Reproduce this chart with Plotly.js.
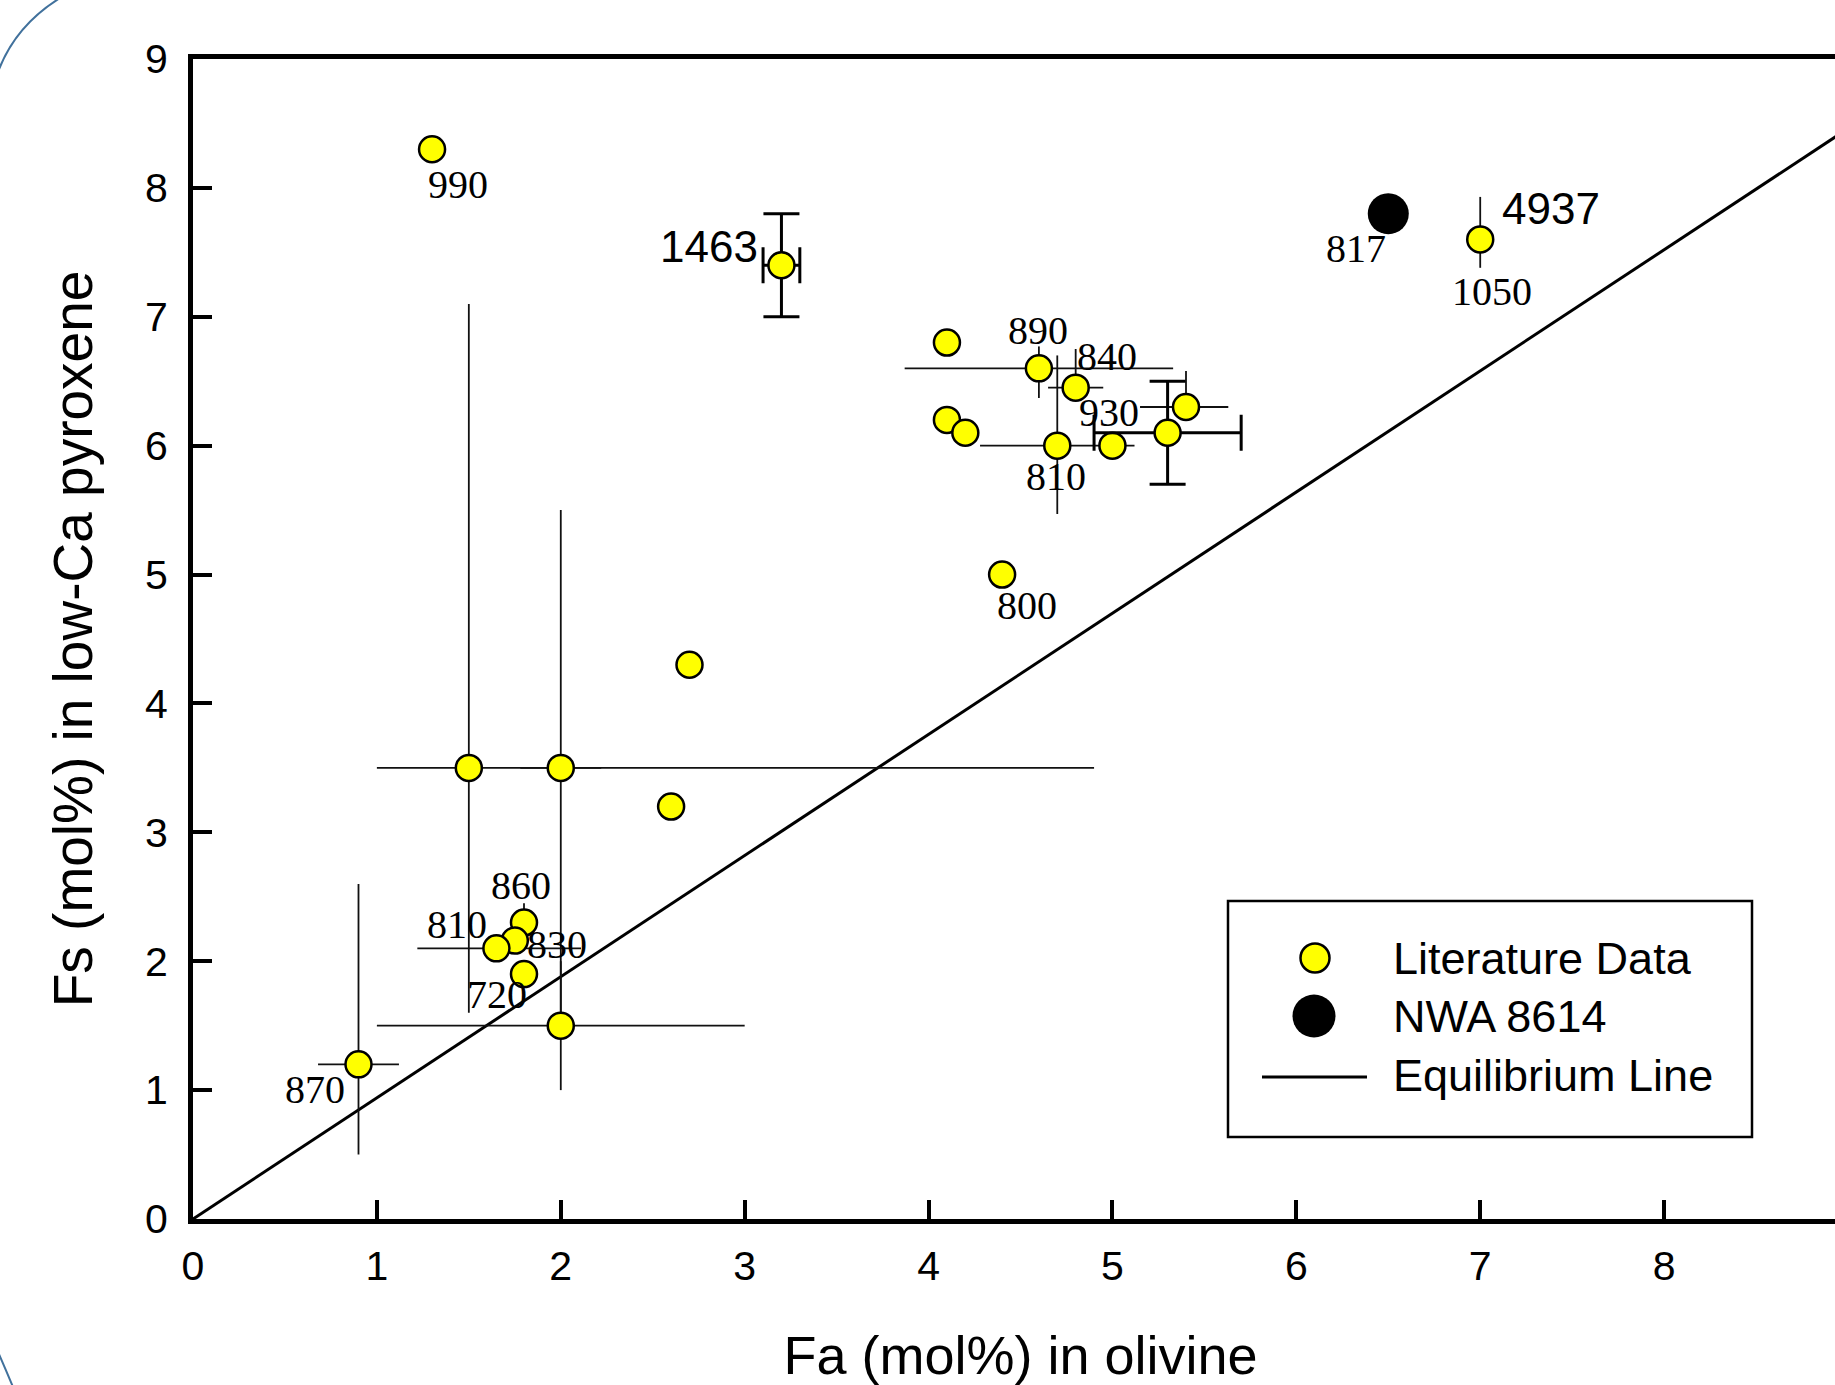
<!DOCTYPE html>
<html><head><meta charset="utf-8">
<script src="https://cdn.plot.ly/plotly-3.0.1.min.js"></script>
<style>html,body{margin:0;padding:0;overflow:hidden;background:#fff}#chart{width:1870px;height:1385px}</style>
</head><body><div id="chart"></div>
<script>
// ---------- DATA ----------
// Literature data (thin error bars)
const litFa = [1.3, 7.0, 4.1, 4.6, 4.8, 4.1, 4.2, 4.7, 5.0, 5.4, 4.4, 2.7, 2.6, 1.5, 2.0, 1.8, 1.75, 1.65, 1.8, 2.0, 0.9];
const litFs = [8.3, 7.6, 6.8, 6.6, 6.45, 6.2, 6.1, 6.0, 6.0, 6.3, 5.0, 4.3, 3.2, 3.5, 3.5, 2.3, 2.16, 2.1, 1.9, 1.5, 1.2];
const litFaErrPlus  = [0, 0, 0, 0.73, 0.15, 0, 0, 0.42, 0, 0.23, 0, 0, 0, 3.4, 0.22, 0, 0, 0.46, 0, 1.0, 0.22];
const litFaErrMinus = [0, 0, 0, 0.73, 0.15, 0, 0, 0.42, 0, 0.25, 0, 0, 0, 0.5, 0.22, 0, 0, 0.43, 0, 1.0, 0.22];
const litFsErrPlus  = [0, 0.33, 0, 0.17, 0.3, 0, 0, 0.7, 0, 0.28, 0, 0, 0, 3.6, 2.0, 0.15, 0, 0, 0, 0.5, 1.4];
const litFsErrMinus = [0, 0.22, 0, 0.23, 0, 0, 0, 0.53, 0, 0.1, 0, 0, 0, 1.9, 2.0, 0, 0, 0, 0, 0.5, 0.7];
const litTemp = ['990', '1050', '', '890', '840', '', '', '810', '930', '', '800', '', '', '', '', '860', '830', '810', '720', '', '870'];
const litName = ['', '4937', '', '', '', '', '', '', '', '', '', '', '', '', '', '', '', '', '', '', ''];

// Literature data (capped error bars)
const capFa = [3.2, 5.3];
const capFs = [7.4, 6.1];
const capFaErr = [0.1, 0.4];
const capFsErr = [0.4, 0.4];
const capName = ['1463', ''];

// NWA 8614
const nwaFa = [6.5];
const nwaFs = [7.8];
const nwaTemp = ['817'];

// Equilibrium line
const eqFa = [0, 9];
const eqFs = [0, 8.46];

// Axis ticks
const xTicks = [0, 1, 2, 3, 4, 5, 6, 7, 8];
const yTicks = [0, 1, 2, 3, 4, 5, 6, 7, 8, 9];

const legendNames = ['Literature Data', 'NWA 8614', 'Equilibrium Line'];

// ---------- LABEL OFFSETS (screen px: dx right, dy down) ----------
const litTempShift = [[26,35],[12,52],null,[-1,-38],[31,-31],null,null,[-1,31],[-3,-33],null,[25,31],null,null,null,null,[-3,-37],[42,4],[-39,-24],[-27,20],null,[-44,25]];
const litNameShift = [null,[71,-31]];
const capNameShift = [[-72,-19]];
const nwaTempShift = [[-32,35]];

// ---------- GEOMETRY ----------
const W = 1870, H = 1385;
const L = 193, T = 59, PW = 1655, PH = 1160;
const px = v => (v - L) / PW;
const py = v => (T + PH - v) / PH;

const serif = 'Liberation Serif, Times New Roman, serif';
const sans = 'Liberation Sans, Arial, sans-serif';

const traces = [
  {x: eqFa, y: eqFs, mode: 'lines', line: {color: '#000', width: 3}, name: legendNames[2], showlegend: false, hoverinfo: 'skip'},
  {x: litFa, y: litFs, mode: 'markers', name: legendNames[0], showlegend: false,
   marker: {color: '#ffff00', size: 26, line: {color: '#000', width: 2.5}},
   error_x: {type: 'data', symmetric: false, array: litFaErrPlus, arrayminus: litFaErrMinus, color: '#111', thickness: 1.8, width: 0},
   error_y: {type: 'data', symmetric: false, array: litFsErrPlus, arrayminus: litFsErrMinus, color: '#111', thickness: 1.8, width: 0}},
  {x: capFa, y: capFs, mode: 'markers', name: legendNames[0], showlegend: false,
   marker: {color: '#ffff00', size: 26, line: {color: '#000', width: 2.5}},
   error_x: {type: 'data', array: capFaErr, color: '#000', thickness: 3, width: 18},
   error_y: {type: 'data', array: capFsErr, color: '#000', thickness: 3, width: 18}},
  {x: nwaFa, y: nwaFs, mode: 'markers', name: legendNames[1], showlegend: false,
   marker: {color: '#000', size: 41, line: {color: '#000', width: 0}}}
];

const annotations = [];
function addLabels(xs, ys, texts, shifts, font) {
  texts.forEach((t, i) => {
    if (!t) return;
    const s = shifts[i];
    annotations.push({x: xs[i], y: ys[i], xref: 'x', yref: 'y', text: t, showarrow: false,
      xshift: s[0], yshift: -s[1], font: font});
  });
}
const serifFont = {family: serif, size: 40, color: '#000'};
const nameFont = {family: sans, size: 44, color: '#000'};
addLabels(litFa, litFs, litTemp, litTempShift, serifFont);
addLabels(litFa, litFs, litName, litNameShift, nameFont);
addLabels(capFa, capFs, capName, capNameShift, nameFont);
addLabels(nwaFa, nwaFs, nwaTemp, nwaTempShift, serifFont);

// manual legend
const legendFont = {family: sans, size: 45, color: '#000'};
const legendRows = [958, 1016, 1075];
legendNames.forEach((n, i) => {
  annotations.push({xref: 'paper', yref: 'paper', x: px(1391), y: py(legendRows[i]), xanchor: 'left', yanchor: 'middle',
    text: n, showarrow: false, font: legendFont});
});

const shapes = [
  {type: 'rect', xref: 'paper', yref: 'paper', x0: px(1228), x1: px(1752), y0: py(1137), y1: py(901),
   fillcolor: '#fff', line: {color: '#000', width: 2.5}, layer: 'above'},
  {type: 'circle', xref: 'paper', yref: 'paper', xsizemode: 'pixel', ysizemode: 'pixel',
   xanchor: px(1315), yanchor: py(legendRows[0]), x0: -14.5, x1: 14.5, y0: -14.5, y1: 14.5,
   fillcolor: '#ffff00', line: {color: '#000', width: 2.5}, layer: 'above'},
  {type: 'circle', xref: 'paper', yref: 'paper', xsizemode: 'pixel', ysizemode: 'pixel',
   xanchor: px(1314), yanchor: py(legendRows[1]), x0: -21.5, x1: 21.5, y0: -21.5, y1: 21.5,
   fillcolor: '#000', line: {color: '#000', width: 0}, layer: 'above'},
  {type: 'line', xref: 'paper', yref: 'paper', x0: px(1262), x1: px(1367), y0: py(legendRows[2] + 2), y1: py(legendRows[2] + 2),
   line: {color: '#000', width: 3}, layer: 'above'},
  // decorative slide frame arcs
  {type: 'path', xref: 'paper', yref: 'paper', path: `M ${px(60)} ${py(-2)} Q ${px(15)} ${py(26)} ${px(-2)} ${py(72)}`,
   line: {color: '#41719c', width: 2}},
  {type: 'path', xref: 'paper', yref: 'paper', path: `M ${px(-2)} ${py(1352)} Q ${px(5)} ${py(1368)} ${px(13)} ${py(1387)}`,
   line: {color: '#41719c', width: 2}}
];

const axisCommon = {
  range: [0, 9], showgrid: false, zeroline: false,
  showline: true, linewidth: 5, linecolor: '#000', mirror: true,
  ticks: 'inside', ticklen: 19, tickwidth: 4, tickcolor: '#000',
  tickfont: {family: sans, size: 41, color: '#000'}, fixedrange: true
};

const layout = {
  width: W, height: H,
  margin: {l: L, r: W - L - PW, t: T, b: H - T - PH, pad: 0},
  paper_bgcolor: '#fff', plot_bgcolor: '#fff', showlegend: false,
  xaxis: Object.assign({}, axisCommon, {tickmode: 'array', tickvals: xTicks, ticktext: xTicks.map(String), ticklabelstandoff: 7,
    title: {text: 'Fa (mol%) in olivine', font: {family: sans, size: 54, color: '#000'}, standoff: 60}}),
  yaxis: Object.assign({}, axisCommon, {tickmode: 'array', tickvals: yTicks, ticktext: yTicks.map(String), ticklabelstandoff: 12,
    title: {text: 'Fs (mol%) in low-Ca pyroxene', font: {family: sans, size: 55, color: '#000'}, standoff: 36}}),
  annotations: annotations,
  shapes: shapes
};

Plotly.newPlot('chart', traces, layout, {displayModeBar: false, staticPlot: true});
</script>
</body></html>
